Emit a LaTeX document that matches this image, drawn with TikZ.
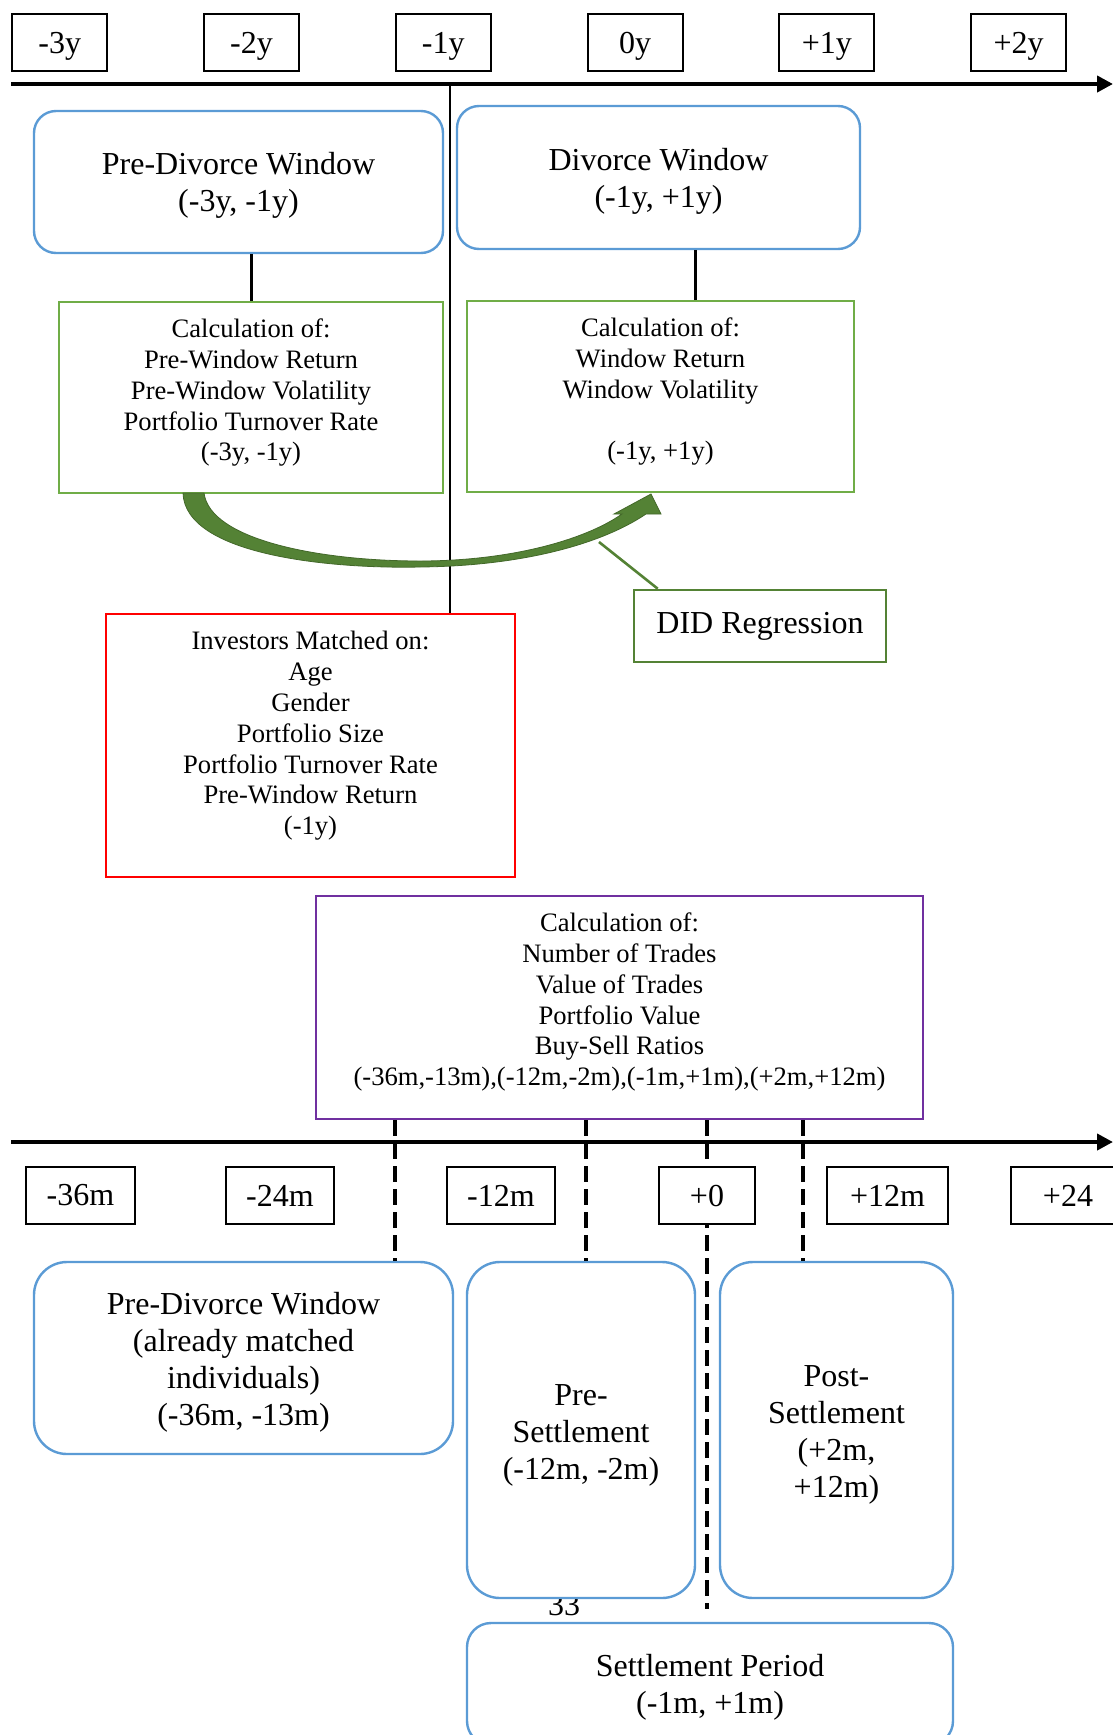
\documentclass[tikz,border=0pt]{standalone}
\usepackage{fontspec}
\setmainfont{Liberation Serif}
\usetikzlibrary{arrows.meta}
\definecolor{wordblue}{HTML}{5B9BD5}
\definecolor{wordgreen}{HTML}{70AD47}
\definecolor{darkgreen}{HTML}{548235}
\definecolor{wordpurple}{HTML}{7030A0}
% lines of a box, lifted by #1 inside the frame
\newcommand{\boxtext}[2]{\raisebox{#1}[\height][\depth]{\begin{tabular}{@{}c@{}}#2\end{tabular}}}
\begin{document}
\begin{tikzpicture}[x=0.5pt,y=-0.5pt,
        bigtext/.style={font=\fontsize{16}{18.5}\selectfont},
        smalltext/.style={font=\fontsize{13.3}{15.4}\selectfont},
        tick/.style={draw,fill=white,line width=1pt,inner sep=0pt,minimum height=28.5pt,bigtext},
        window/.style={draw=wordblue,fill=white,line width=1.2pt,rounded corners=11pt,inner sep=0pt,bigtext},
        calcbox/.style={draw=wordgreen,fill=white,line width=1.1pt,inner sep=0pt,smalltext},
        timeline/.style={line width=2pt,-{Triangle[length=8pt,width=8pt]}},
        period/.style={line width=1.8pt,dash pattern=on 8pt off 3.5pt}]
        \useasboundingbox (0,0) rectangle (1113,1735);
        \clip (0,0) rectangle (1113,1735);
        %% Year axis
        \coordinate (topL) at (11,84);
        \coordinate (topR) at (1113,84);
        \coordinate (split) at (450,84);
        \draw[timeline] (topL) -- (topR);
        \foreach \lbl [count=\i from 0] in {-3y,-2y,-1y,0y,+1y,+2y}
            \node[tick,minimum width=47.5pt] (yr\i) at (59.7+191.8*\i,42) {\boxtext{-2pt}{\lbl}};
        %% Windows
        \node[window,minimum width=204.5pt,minimum height=71pt] (preWin) at (238.5,182) {\boxtext{-2pt}{Pre-Divorce Window\\(-3y, -1y)}};
        \node[window,minimum width=201.5pt,minimum height=71.5pt] (divWin) at (658.5,177.5) {\boxtext{-2pt}{Divorce Window\\(-1y, +1y)}};
        \node[calcbox,minimum width=192pt,minimum height=95.5pt] (calcA) at (251,397.5) {\boxtext{2.2pt}{Calculation of:\\Pre-Window Return\\Pre-Window Volatility\\Portfolio Turnover Rate\\(-3y, -1y)}};
        \node[calcbox,minimum width=193.5pt,minimum height=95.5pt] (calcB) at (660.5,396.5) {\boxtext{2.2pt}{Calculation of:\\Window Return\\Window Volatility\\ \\(-1y, +1y)}};
        \node[draw=red,fill=white,line width=1.1pt,inner sep=0pt,smalltext,minimum width=204.5pt,minimum height=131.5pt] (match) at (310.5,745.5) {\boxtext{4.7pt}{Investors Matched on:\\Age\\Gender\\Portfolio Size\\Portfolio Turnover Rate\\Pre-Window Return\\(-1y)}};
        \node[draw=darkgreen,fill=white,line width=1.3pt,inner sep=0pt,bigtext,minimum width=126pt,minimum height=36pt] (did) at (760,626) {DID Regression};
        %% Lines
        \draw[line width=1.2pt] (split) -- (split |- match.north);
        \draw[line width=1.5pt] (calcA.north) -- (calcA.north |- preWin.south);
        \path ([xshift=17.25pt]calcB.north) coordinate (calcBtop);
        \draw[line width=1.5pt] (calcBtop) -- (calcBtop |- divWin.south);
        %% DID arrow
        \fill[darkgreen,draw=darkgreen!80!black,line width=0.4pt] (183,493) .. controls (185,555) and (330,569) .. (420,567)
            .. controls (520,566) and (600,545) .. (646,514) -- (661,514) -- (651,494) -- (614,514) -- (622,514)
            .. controls (585,540) and (510,561) .. (420,561) .. controls (320,561) and (210,540) .. (204,493) -- cycle;
        \coordinate (arrowpt) at (599,542);
        \path ([xshift=12.5pt]did.north west) coordinate (didtop);
        \draw[darkgreen,line width=1.3pt] (didtop) -- (arrowpt);
        %% Month axis
        \node[draw=wordpurple,fill=white,line width=1.3pt,inner sep=0pt,smalltext,minimum width=303.5pt,minimum height=111.5pt] (trades) at (619.5,1007.5) {\boxtext{2.5pt}{Calculation of:\\Number of Trades\\Value of Trades\\Portfolio Value\\Buy-Sell Ratios\\(-36m,-13m),(-12m,-2m),(-1m,+1m),(+2m,+12m)}};
        \coordinate (botL) at (11,1142);
        \coordinate (botR) at (1113,1142);
        \draw[timeline] (botL) -- (botR);
        \coordinate (cutA) at (395,1142);
        \coordinate (cutB) at (586,1142);
        \coordinate (cutC) at (707,1142);
        \coordinate (cutD) at (803,1142);
        \node[bigtext,anchor=base] (pagenum) at (564,1615) {33};
        %% Periods
        \node[window,rounded corners=16.5pt,minimum width=209.5pt,minimum height=96pt] (preDivM) at (243.5,1358) {\boxtext{-2.5pt}{Pre-Divorce Window\\(already matched\\individuals)\\(-36m, -13m)}};
        \node[window,rounded corners=16.5pt,minimum width=114pt,minimum height=168pt] (preSet) at (581,1430) {\boxtext{-2.5pt}{Pre-\\Settlement\\(-12m, -2m)}};
        \node[window,rounded corners=16.5pt,minimum width=116.5pt,minimum height=168pt] (postSet) at (836.5,1430) {\boxtext{-2.5pt}{Post-\\Settlement\\(+2m,\\+12m)}};
        \node[window,rounded corners=12pt,minimum width=243pt,minimum height=61pt] (setPer) at (710,1684) {\boxtext{-1.8pt}{Settlement Period\\(-1m, +1m)}};
        \draw[period] (cutA |- trades.south) -- (cutA |- preDivM.north);
        \draw[period] (cutB |- trades.south) -- (cutB |- preSet.north);
        \draw[period] (cutD |- trades.south) -- (cutD |- postSet.north);
        \draw[period,shorten >=6.5pt] (cutC |- trades.south) -- (cutC |- setPer.north);
        \foreach \x/\w/\lbl [count=\i] in {80.5/109/-36m,280/108/-24m,501/108/-12m,707/96/+0,887.5/121/+12m,1068/114/+24}
            \node[tick,minimum width={\w*0.5pt}] (mo\i) at (\x,1195.5) {\lbl};
\end{tikzpicture}
\end{document}
